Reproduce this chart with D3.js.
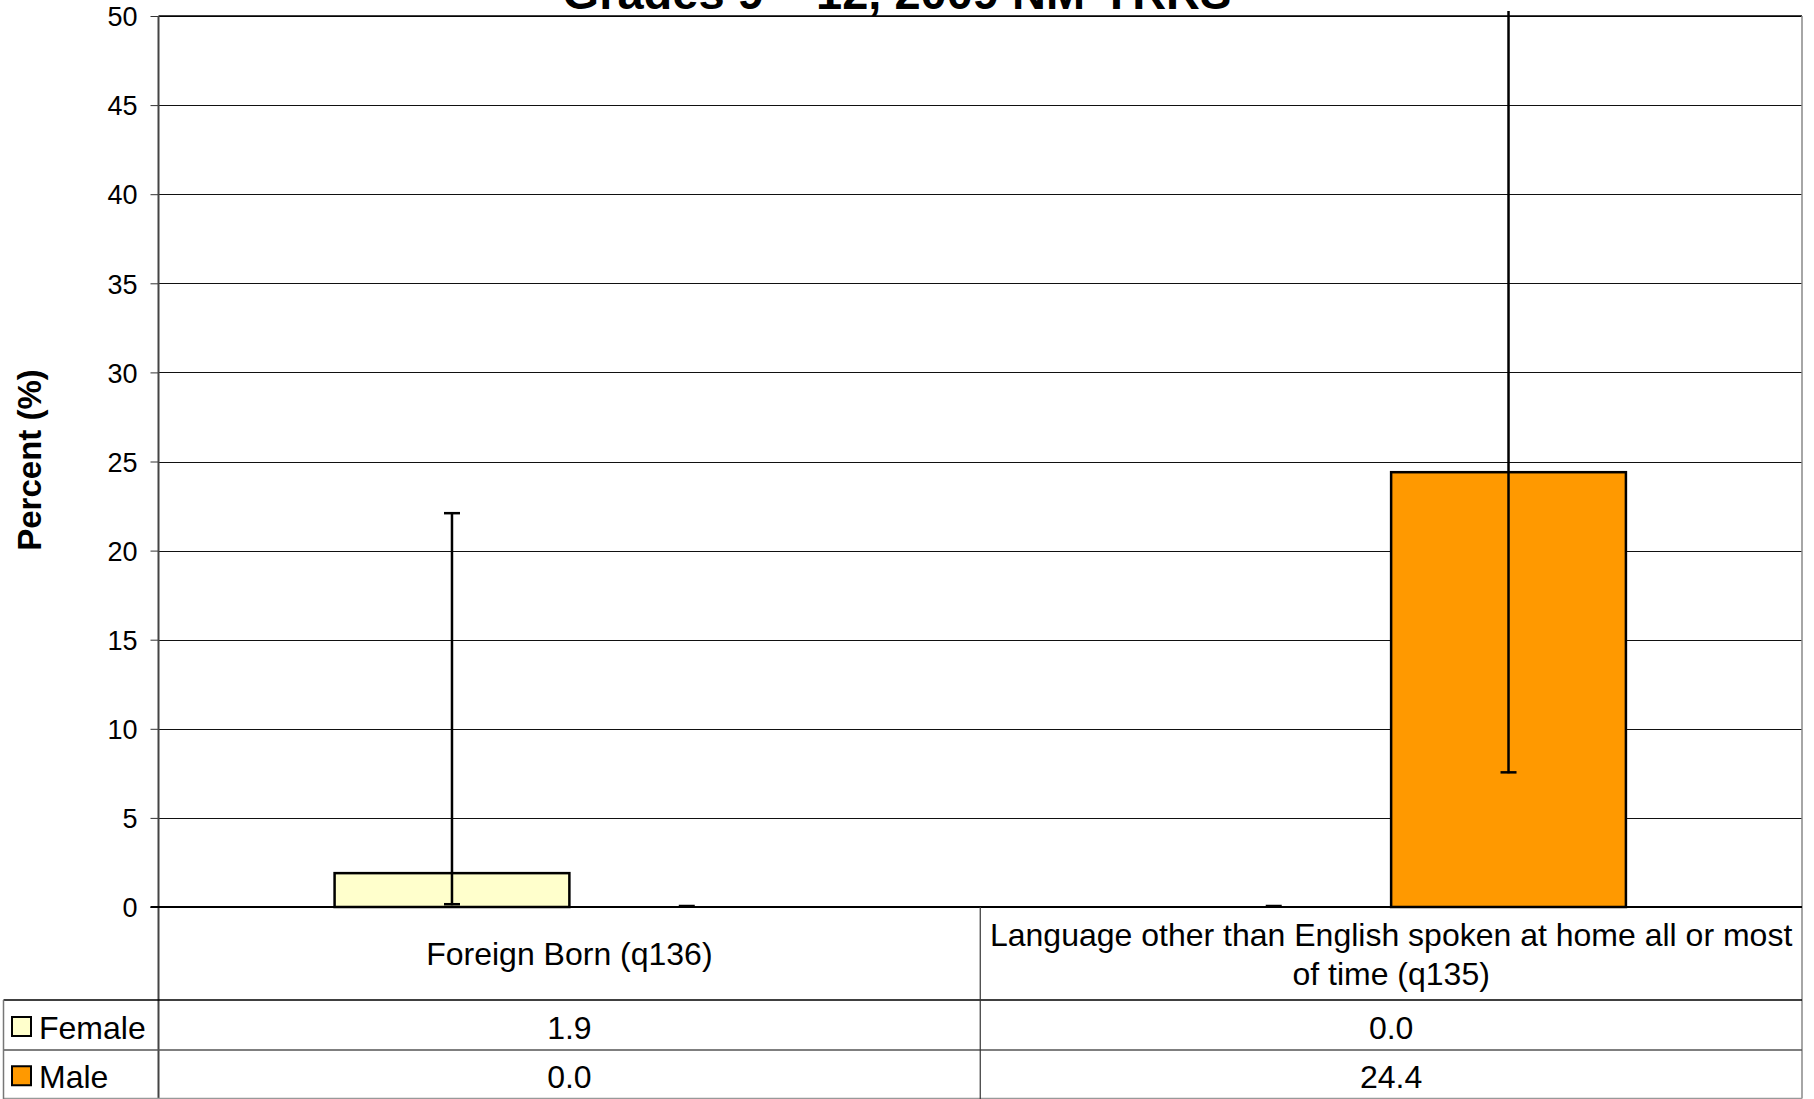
<!DOCTYPE html>
<html>
<head>
<meta charset="utf-8">
<script src="https://cdn.jsdelivr.net/npm/d3@7"></script>
<style>
  body { margin: 0; background: #fff; }
  svg { display: block; font-family: Arial, "Liberation Sans", sans-serif; }
</style>
</head>
<body>
<div id="chart"></div>
<script>
// chart data
const categories = ["Foreign Born (q136)", "Language other than English spoken at home all or most of time (q135)"];
const categoryLines = [["Foreign Born (q136)"], ["Language other than English spoken at home all or most", "of time (q135)"]];
const seriesNames = ["Female", "Male"];
const femaleValues = [1.9, 0.0];
const maleValues = [0.0, 24.4];
const femaleLow = [0.1, 0.0];
const femaleHigh = [22.1, 0.0];
const maleLow = [0.0, 7.5];
const maleHigh = [0.0, 50.3]; // q135 male runs past the top
const yTicks = [0, 5, 10, 15, 20, 25, 30, 35, 40, 45, 50];
const titleText = "Grades 9 – 12, 2009 NM-YRRS";
const yTitle = "Percent (%)";
const colors = { Female: "#FFFFCC", Male: "#FF9900" };

const W = 1814, H = 1099;
const plotLeft = 158.5, plotRight = 1802, plotTop = 16, plotBottom = 907;
const rowHead = 1000, rowF = 1050, rowM = 1098.5, tableLeft = 3.5;

const series = [
    { name: "Female", values: femaleValues, lo: femaleLow, hi: femaleHigh },
    { name: "Male", values: maleValues, lo: maleLow, hi: maleHigh }
];

const svg = d3.select("#chart").append("svg")
    .attr("width", W)
    .attr("height", H);

const x = d3.scaleBand().domain(categories).range([plotLeft, plotRight]).padding(0);
const xs = d3.scaleBand().domain(seriesNames).range([0, x.bandwidth()])
    .paddingInner(0).paddingOuter(0.75);
const y = d3.scaleLinear().domain([0, 50]).range([plotBottom, plotTop]);

// title (top part falls off the picture, as in the original)
svg.append("text")
    .attr("x", 897)
    .attr("y", 9)
    .attr("text-anchor", "middle")
    .style("font-size", "47px")
    .style("font-weight", "bold")
    .text(titleText);

// gridlines
svg.append("g")
    .selectAll("line")
    .data(yTicks.filter(d => d > 0))
    .join("line")
    .attr("x1", plotLeft).attr("x2", plotRight)
    .attr("y1", d => Math.round(y(d)) + 0.5).attr("y2", d => Math.round(y(d)) + 0.5)
    .attr("stroke", "#111")
    .attr("stroke-width", 1);

// y axis
const yAxis = svg.append("g")
    .attr("transform", `translate(${plotLeft},0)`)
    .call(d3.axisLeft(y).tickValues(yTicks).tickSize(8).tickPadding(13));
yAxis.select(".domain").remove();
yAxis.selectAll(".tick line").attr("stroke", "#333");
yAxis.selectAll(".tick text")
    .style("font-size", "27px")
    .attr("fill", "#000")
    .attr("dy", "0.36em");

svg.append("text")
    .attr("transform", "translate(29,460) rotate(-90)")
    .attr("text-anchor", "middle")
    .attr("dy", "0.36em")
    .style("font-size", "33px")
    .style("font-weight", "bold")
    .text(yTitle);

// bars
const groups = svg.append("g")
    .selectAll("g")
    .data(series)
    .join("g");

groups.selectAll("rect")
    .data(s => s.values.map((v, i) => ({ name: s.name, cat: categories[i], v })))
    .join("rect")
    .attr("x", d => x(d.cat) + xs(d.name))
    .attr("width", xs.bandwidth())
    .attr("y", d => y(d.v))
    .attr("height", d => y(0) - y(d.v))
    .attr("fill", d => colors[d.name])
    .attr("stroke", "#000")
    .attr("stroke-width", 2.5)
    .style("display", d => d.v > 0 ? null : "none");

// error bars
const errs = [];
series.forEach(s => s.values.forEach((v, i) => {
    errs.push({ cx: x(categories[i]) + xs(s.name) + xs.bandwidth() / 2, lo: s.lo[i], hi: s.hi[i] });
}));
const eg = svg.append("g").attr("stroke", "#000").attr("stroke-width", 2.5);
errs.forEach(e => {
    const y1 = y(e.lo), y2 = Math.max(y(e.hi), plotTop - 5);
    if (y1 - y2 > 1) {
        eg.append("line").attr("x1", e.cx).attr("x2", e.cx).attr("y1", y1).attr("y2", y2);
    }
    eg.append("line").attr("x1", e.cx - 8).attr("x2", e.cx + 8).attr("y1", y1 - 1).attr("y2", y1 - 1);
    if (y(e.hi) >= plotTop && y1 - y2 > 1) {
        eg.append("line").attr("x1", e.cx - 8).attr("x2", e.cx + 8).attr("y1", y2).attr("y2", y2);
    }
});

// plot frame
svg.append("line").attr("x1", plotLeft).attr("x2", plotRight).attr("y1", plotTop).attr("y2", plotTop)
    .attr("stroke", "#000").attr("stroke-width", 1.5);
svg.append("line").attr("x1", plotRight).attr("x2", plotRight).attr("y1", plotTop).attr("y2", rowM)
    .attr("stroke", "#888").attr("stroke-width", 1.5);
svg.append("line").attr("x1", plotLeft).attr("x2", plotLeft).attr("y1", plotTop).attr("y2", H)
    .attr("stroke", "#444").attr("stroke-width", 2);
svg.append("line").attr("x1", plotLeft - 8).attr("x2", plotRight).attr("y1", plotBottom).attr("y2", plotBottom)
    .attr("stroke", "#000").attr("stroke-width", 2);

// data table
const tbl = svg.append("g");
tbl.append("line").attr("x1", tableLeft).attr("x2", plotRight).attr("y1", rowHead).attr("y2", rowHead)
    .attr("stroke", "#000").attr("stroke-width", 1.5);
tbl.append("line").attr("x1", tableLeft).attr("x2", plotRight).attr("y1", rowF).attr("y2", rowF)
    .attr("stroke", "#555").attr("stroke-width", 1.5);
tbl.append("line").attr("x1", tableLeft).attr("x2", plotRight).attr("y1", rowM).attr("y2", rowM)
    .attr("stroke", "#999").attr("stroke-width", 1.5);
tbl.append("line").attr("x1", tableLeft).attr("x2", tableLeft).attr("y1", rowHead).attr("y2", H)
    .attr("stroke", "#777").attr("stroke-width", 1.5);
tbl.selectAll(".sep")
    .data(categories.slice(1))
    .join("line")
    .attr("x1", d => x(d)).attr("x2", d => x(d))
    .attr("y1", plotBottom).attr("y2", H)
    .attr("stroke", "#333").attr("stroke-width", 1.2);

// category labels
categories.forEach((c, i) => {
    const lines = categoryLines[i];
    const cy = (plotBottom + rowHead) / 2;
    const lh = 39;
    tbl.append("text")
        .attr("text-anchor", "middle")
        .style("font-size", "32px")
        .selectAll("tspan")
        .data(lines)
        .join("tspan")
        .attr("x", x(c) + x.bandwidth() / 2)
        .attr("y", (d, j) => cy + (j - (lines.length - 1) / 2) * lh)
        .attr("dy", "0.36em")
        .text(d => d);
});

// rows: legend key + values
const rows = [
    { s: series[0], y0: rowHead, y1: rowF },
    { s: series[1], y0: rowF, y1: rowM }
];
rows.forEach(r => {
    const cy = (r.y0 + r.y1) / 2 + 2;
    tbl.append("rect")
        .attr("x", 12).attr("y", cy - 10)
        .attr("width", 19).attr("height", 19)
        .attr("fill", colors[r.s.name])
        .attr("stroke", "#000").attr("stroke-width", 2);
    tbl.append("text")
        .attr("x", 39).attr("y", cy)
        .attr("dy", "0.36em")
        .style("font-size", "32px")
        .text(r.s.name);
    r.s.values.forEach((v, i) => {
        tbl.append("text")
            .attr("x", x(categories[i]) + x.bandwidth() / 2)
            .attr("y", cy)
            .attr("dy", "0.36em")
            .attr("text-anchor", "middle")
            .style("font-size", "32px")
            .text(d3.format(".1f")(v));
    });
});
</script>
</body>
</html>
